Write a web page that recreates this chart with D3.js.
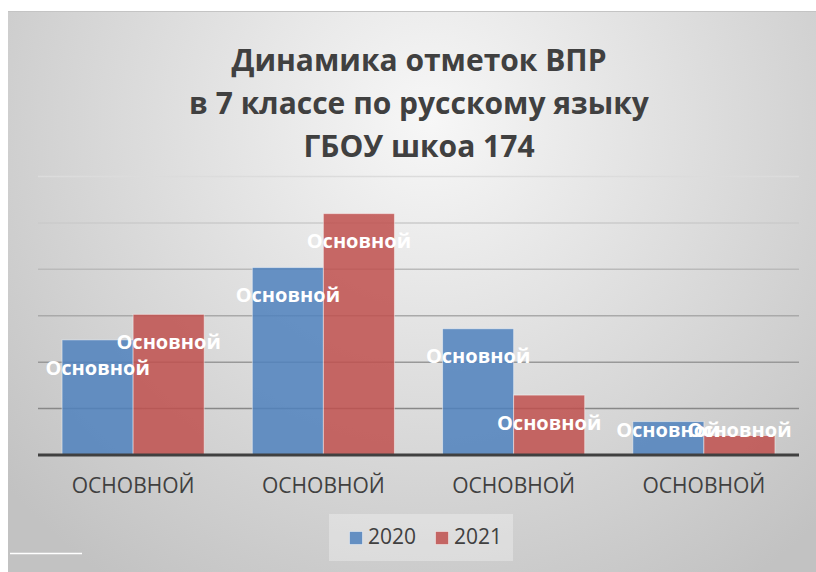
<!DOCTYPE html>
<html><head><meta charset="utf-8">
<script src="https://cdn.jsdelivr.net/npm/d3@7"></script>
<style>html,body{margin:0;padding:0;background:#fff;}svg{display:block;}</style>
</head><body>
<script>
const categories = ["ОСНОВНОЙ","ОСНОВНОЙ","ОСНОВНОЙ","ОСНОВНОЙ"];
const seriesNames = ["2020","2021"];
const values2020 = [24.8, 40.4, 27.2, 7.2];
const values2021 = [30.3, 52.0, 12.9, 4.2];
const dataLabel = "Основной";
const yTicks = [0,10,20,30,40,50,60];
const titleLines = ["Динамика отметок ВПР","в 7 классе по русскому языку","ГБОУ шкоа 174"];

const W = 816, H = 572;
const svg = d3.select("body").append("svg").attr("width", W).attr("height", H);
const defs = svg.append("defs");
const bg = defs.append("radialGradient").attr("id","bg").attr("gradientUnits","userSpaceOnUse")
  .attr("cx",430).attr("cy",120).attr("r",560);
bg.append("stop").attr("offset","0").attr("stop-color","#f7f7f7");
bg.append("stop").attr("offset","1").attr("stop-color","#c2c2c2");
const gg = defs.append("linearGradient").attr("id","grid").attr("gradientUnits","userSpaceOnUse")
  .attr("x1",0).attr("y1",176).attr("x2",0).attr("y2",455);
gg.append("stop").attr("offset","0").attr("stop-color","#dcdcdc");
gg.append("stop").attr("offset","1").attr("stop-color","#777");

svg.append("rect").attr("x",8).attr("y",11).attr("width",W-8).attr("height",H-11).attr("fill","url(#bg)");
svg.append("line").attr("x1",8).attr("x2",W).attr("y1",11.5).attr("y2",11.5).attr("stroke","#c4c4c4");

const colors = {"2020":"rgba(79,129,189,0.85)","2021":"rgba(192,80,77,0.85)"};
const x0 = d3.scaleBand().domain(d3.range(categories.length)).range([38,799]).paddingInner(0.253).paddingOuter(0.1265);
const x1 = d3.scaleBand().domain(seriesNames).range([0, x0.bandwidth()]);
const y = d3.scaleLinear().domain([0,60]).range([455,176.5]);

// gridlines
svg.append("g").selectAll("line").data(yTicks.filter(t=>t>0)).join("line")
  .attr("x1",38).attr("x2",799).attr("y1",d=>y(d)).attr("y2",d=>y(d))
  .attr("stroke","url(#grid)").attr("stroke-width",1.5);

const rows = categories.map((c,i)=>({i, vals:[{k:"2020",v:values2020[i]},{k:"2021",v:values2021[i]}]}));
const groups = svg.append("g").selectAll("g").data(rows).join("g")
  .attr("transform",d=>`translate(${x0(d.i)},0)`);
groups.selectAll("rect").data(d=>d.vals).join("rect")
  .attr("x",d=>x1(d.k)).attr("width",x1.bandwidth())
  .attr("y",d=>y(d.v)).attr("height",d=>455-y(d.v))
  .attr("fill",d=>colors[d.k]).attr("stroke","rgba(255,255,255,0.45)").attr("stroke-width",1);

// axis line
svg.append("line").attr("x1",38).attr("x2",799).attr("y1",455).attr("y2",455).attr("stroke","#404040").attr("stroke-width",3);

// x axis labels
const ax = svg.append("g").attr("transform","translate(0,455)")
  .call(d3.axisBottom(x0).tickSize(0).tickPadding(23).tickFormat(i=>categories[i]));
ax.select(".domain").remove();
ax.selectAll("text").attr("font-family","'Open Sans'").attr("font-size",21).attr("fill","#404040");

// data labels
groups.selectAll("text.dl").data(d=>d.vals).join("text").attr("class","dl")
  .attr("x",d=>x1(d.k)+x1.bandwidth()/2)
  .attr("y",d=>Math.min(y(d.v)+27.5,430)).attr("dy","0.36em")
  .attr("text-anchor","middle").attr("font-family","'Open Sans'").attr("font-weight","bold")
  .attr("font-size",20).attr("fill","#fff").text(dataLabel);

// title
svg.append("g").selectAll("text").data(titleLines).join("text")
  .attr("x",419).attr("y",(d,i)=>71+i*43).attr("text-anchor","middle")
  .attr("font-family","'Open Sans'").attr("font-weight","bold").attr("font-size",30)
  .attr("fill","#404040").text(d=>d);

// legend
const lg = svg.append("g");
lg.append("rect").attr("x",329).attr("y",514).attr("width",184).attr("height",47).attr("fill","rgba(255,255,255,0.3)");
const lx = [349,435];
seriesNames.forEach((s,i)=>{
  lg.append("rect").attr("x",lx[i]+0.5).attr("y",531.5).attr("width",13).attr("height",13)
    .attr("fill",colors[s]).attr("stroke","rgba(255,255,255,0.45)");
  lg.append("text").attr("x",lx[i]+19).attr("y",544.3).attr("font-family","'Open Sans'")
    .attr("font-size",21).attr("fill","#404040").text(s);
});

svg.append("line").attr("x1",10).attr("x2",82).attr("y1",553.5).attr("y2",553.5).attr("stroke","#fff").attr("stroke-width",1.5);
</script>
</body></html>
